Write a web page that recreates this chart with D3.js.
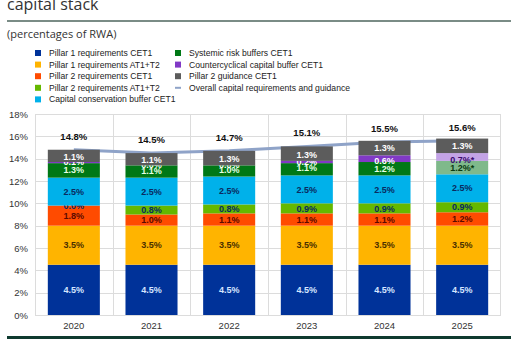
<!DOCTYPE html>
<html>
<head>
<meta charset="utf-8">
<script src="https://cdn.jsdelivr.net/npm/d3@7"></script>
<style>
  body { margin: 0; background: #fff; }
  svg { display: block; }
</style>
</head>
<body>
<svg id="chart" width="511" height="339"></svg>
<script>
var years = ['2020', '2021', '2022', '2023', '2024', '2025'];

var seriesNames = [
  'Pillar 1 requirements CET1',
  'Pillar 1 requirements AT1+T2',
  'Pillar 2 requirements CET1',
  'Pillar 2 requirements AT1+T2',
  'Capital conservation buffer CET1',
  'Systemic risk buffers CET1',
  'Countercyclical capital buffer CET1',
  'Pillar 2 guidance CET1'
];

var p1Cet1   = [4.5, 4.5, 4.5, 4.5, 4.5, 4.5];
var p1At1T2  = [3.5, 3.5, 3.5, 3.5, 3.5, 3.5];
var p2Cet1   = [1.8, 1.0, 1.1, 1.1, 1.1, 1.2];
var p2At1T2  = [0.0, 0.8, 0.8, 0.9, 0.9, 0.9];
var ccb      = [2.5, 2.5, 2.5, 2.5, 2.5, 2.5];
var srb      = [1.3, 1.1, 1.0, 1.1, 1.2, 1.2];
var ccyb     = [0.1, 0.0, 0.0, 0.2, 0.6, 0.7];
var p2g      = [1.1, 1.1, 1.3, 1.3, 1.3, 1.3];
var overall  = [14.8, 14.5, 14.7, 15.1, 15.5, 15.6];

// 2025 buffers are projections, flagged with an asterisk
var projected = [false, false, false, false, false, true];

var yTicks = [0, 2, 4, 6, 8, 10, 12, 14, 16, 18];

var colors = ['#003299', '#ffb400', '#ff4b00', '#65b800', '#00b1ea', '#007816', '#8139c6', '#5c5c5c'];
var lightColors = { 5: '#7fb98b', 6: '#c3a3e6' };
var labelColors = ['#d6e6ff', '#4a3000', '#5a0a00', '#0a2a60', '#0a2a60', '#e6ffe6', '#ffffff', '#ffffff'];
var lightLabelColors = { 5: '#0a3a10', 6: '#3a0a70' };
var lineColor = '#8fa3c8';

var allSeries = [p1Cet1, p1At1T2, p2Cet1, p2At1T2, ccb, srb, ccyb, p2g];

var rows = years.map(function(y, i) {
  var r = { year: y, i: i };
  seriesNames.forEach(function(n, k) { r[n] = allSeries[k][i]; });
  return r;
});

var svg = d3.select('#chart');
var W = +svg.attr('width');

// header
svg.append('text')
  .attr('x', 7).attr('y', 10)
  .attr('font-family', 'Open Sans, sans-serif')
  .attr('font-size', 16)
  .attr('fill', '#333')
  .text('capital stack');

svg.append('rect')
  .attr('x', 7).attr('y', 20)
  .attr('width', W - 7).attr('height', 2)
  .attr('fill', '#7a8c86');

svg.append('text')
  .attr('x', 7).attr('y', 38)
  .attr('font-family', 'Open Sans, sans-serif')
  .attr('font-size', 11)
  .attr('fill', '#333')
  .text('(percentages of RWA)');

// legend
var legendItems = seriesNames.map(function(n, k) { return { name: n, color: colors[k], type: 'box' }; });
legendItems.push({ name: 'Overall capital requirements and guidance', color: lineColor, type: 'line' });
var legend = svg.append('g')
  .attr('font-family', 'Liberation Sans, Arial, sans-serif')
  .attr('font-size', 8.6)
  .attr('fill', '#222');

legendItems.forEach(function(it, j) {
  var col = j < 5 ? 0 : 1;
  var row = j < 5 ? j : j - 5;
  var gx = col === 0 ? 35 : 175;
  var gy = 53 + row * 11.6;
  var g = legend.append('g').attr('transform', 'translate(' + gx + ',' + gy + ')');
  if (it.type === 'box') {
    g.append('rect').attr('x', 0).attr('y', -3).attr('width', 6).attr('height', 6).attr('fill', it.color);
  } else {
    g.append('rect').attr('x', 0).attr('y', -1).attr('width', 6).attr('height', 2).attr('fill', it.color);
  }
  g.append('text').attr('x', 14).attr('y', 3).text(it.name);
});

// plot
var plotLeft = 35, plotRight = 501, plotTop = 114, plotBottom = 315;

var x = d3.scaleBand().domain(years).range([plotLeft, plotRight]).paddingInner(0.33).paddingOuter(0.165);
var xBand = d3.scaleBand().domain(years).range([plotLeft, plotRight]);
var y = d3.scaleLinear().domain([0, 18]).range([plotBottom, plotTop]);

var grid = svg.append('g');
grid.selectAll('.hgrid')
  .data(yTicks)
  .enter().append('line')
  .attr('class', 'hgrid')
  .attr('x1', plotLeft).attr('x2', plotRight)
  .attr('y1', function(d) { return Math.round(y(d)) + 0.5; })
  .attr('y2', function(d) { return Math.round(y(d)) + 0.5; })
  .attr('stroke', '#dcdcdc');

grid.selectAll('.vgrid')
  .data(years.slice(1).concat(['end']))
  .enter().append('line')
  .attr('class', 'vgrid')
  .attr('x1', function(d) { return d === 'end' ? 500.5 : Math.round(xBand(d)) + 0.5; })
  .attr('x2', function(d) { return d === 'end' ? 500.5 : Math.round(xBand(d)) + 0.5; })
  .attr('y1', y(18)).attr('y2', plotBottom)
  .attr('stroke', '#dcdcdc');

grid.append('line')
  .attr('x1', plotLeft + 0.5).attr('x2', plotLeft + 0.5)
  .attr('y1', y(18)).attr('y2', plotBottom)
  .attr('stroke', '#dcdcdc');

var yAxis = d3.axisLeft(y).tickValues(yTicks).tickSize(0).tickPadding(7)
  .tickFormat(function(d) { return d + '%'; });
svg.append('g')
  .attr('transform', 'translate(' + plotLeft + ',0)')
  .call(yAxis)
  .call(function(g) { g.select('.domain').remove(); })
  .selectAll('text')
  .attr('font-family', 'Liberation Sans, Arial, sans-serif')
  .attr('font-size', 9.5)
  .attr('fill', '#333');

var xAxis = d3.axisBottom(x).tickSize(0).tickPadding(7);
svg.append('g')
  .attr('transform', 'translate(0,' + plotBottom + ')')
  .call(xAxis)
  .call(function(g) { g.select('.domain').remove(); })
  .selectAll('text')
  .attr('font-family', 'Liberation Sans, Arial, sans-serif')
  .attr('font-size', 9.5)
  .attr('fill', '#333');

// overall requirements line sits behind the bars
var line = d3.line()
  .x(function(d, i) { return x(years[i]) + x.bandwidth() / 2; })
  .y(function(d) { return y(d); });
svg.append('path')
  .datum(overall)
  .attr('d', line)
  .attr('fill', 'none')
  .attr('stroke', lineColor)
  .attr('stroke-width', 3);

var stack = d3.stack().keys(seriesNames)(rows);

var layers = svg.selectAll('.layer')
  .data(stack)
  .enter().append('g')
  .attr('class', 'layer');

layers.selectAll('rect')
  .data(function(d) { return d.map(function(p) { p.k = d.index; return p; }); })
  .enter().append('rect')
  .attr('x', function(d) { return x(d.data.year); })
  .attr('width', x.bandwidth())
  .attr('y', function(d) { return y(d[1]); })
  .attr('height', function(d) { return y(d[0]) - y(d[1]); })
  .attr('fill', function(d) {
    return projected[d.data.i] && lightColors[d.k] ? lightColors[d.k] : colors[d.k];
  });

layers.selectAll('text')
  .data(function(d) { return d; })
  .enter().append('text')
  .attr('x', function(d) { return x(d.data.year) + x.bandwidth() / 2; })
  .attr('y', function(d) {
    var mid = (y(d[0]) + y(d[1])) / 2;
    // thin segments near the top get nudged so the labels stay readable
    if (d.k === 6) mid = y(d[0]) - 1;
    if (d.k === 5 && d.data[seriesNames[6]] < 0.3) mid -= 1;
    if (d.k === 7 && d.data[seriesNames[6]] < 0.3) mid += 1;
    return mid + 3.2;
  })
  .attr('text-anchor', 'middle')
  .attr('font-family', 'Liberation Sans Narrow, Arial Narrow, Liberation Sans, sans-serif')
  .attr('font-weight', 'bold')
  .attr('font-size', 9)
  .attr('fill', function(d) {
    return projected[d.data.i] && lightLabelColors[d.k] ? lightLabelColors[d.k] : labelColors[d.k];
  })
  .text(function(d) {
    var v = d[1] - d[0];
    var s = v.toFixed(1) + '%';
    if (projected[d.data.i] && lightColors[d.k]) s += '*';
    return s;
  });

// totals above each bar
svg.selectAll('.total')
  .data(overall)
  .enter().append('text')
  .attr('class', 'total')
  .attr('x', function(d, i) { return x(years[i]) + x.bandwidth() / 2; })
  .attr('y', function(d) { return y(d) - 10; })
  .attr('text-anchor', 'middle')
  .attr('font-family', 'Liberation Sans Narrow, Arial Narrow, Liberation Sans, sans-serif')
  .attr('font-weight', 'bold')
  .attr('font-size', 9.5)
  .attr('fill', '#111')
  .text(function(d) { return d.toFixed(1) + '%'; });

// footer rule
svg.append('rect')
  .attr('x', 7).attr('y', 336)
  .attr('width', W - 7).attr('height', 3)
  .attr('fill', '#0e3a2f');
</script>
</body>
</html>
